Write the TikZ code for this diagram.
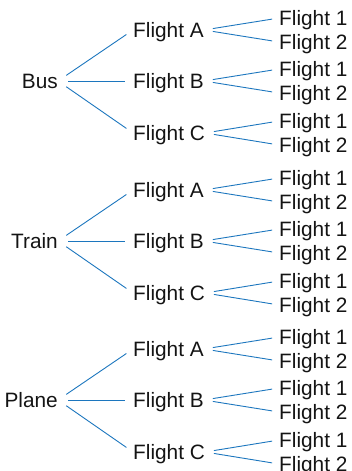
\documentclass[tikz,border=0pt]{standalone}
\usepackage{fontspec}
\setmainfont{Liberation Sans}
\definecolor{branchblue}{RGB}{28,118,190}
\definecolor{inkgrey}{RGB}{20,20,20}
\tikzset{
  label/.style={inner sep=0pt, text height=14.5pt, text depth=0pt, text=inkgrey,
    font=\fontsize{20.8}{22}\selectfont},
  mode/.style={label, anchor=east},
  flight/.style={label, anchor=west},
  leaf/.style={label, anchor=west},
  branch/.style={draw=branchblue, line width=0.9pt},
}
\begin{document}
\begin{tikzpicture}[x=1pt,y=-1pt]
  \useasboundingbox (0,0) rectangle (352,471);
  \foreach \mode/\y [count=\i] in {Bus/81,Train/241,Plane/400} {
    \node[mode] (m\i) at (58,\y) {\mode};
    \foreach \f/\dy in {A/-51,B/0,C/52} {
      \node[flight] (f\i\f) at (133,{\y+\dy}) {Flight \f};
      \draw[branch, shorten <=10pt, shorten >=8pt] (m\i.east) -- (f\i\f.west);
      \foreach \k/\ddy in {1/-12,2/12} {
        \node[leaf] (l\i\f\k) at (279,{\y+\dy+\ddy}) {Flight \k};
        \draw[branch, shorten <=9pt, shorten >=7pt] (f\i\f.east) -- (l\i\f\k.west);
      }
    }
  }
\end{tikzpicture}
\end{document}
